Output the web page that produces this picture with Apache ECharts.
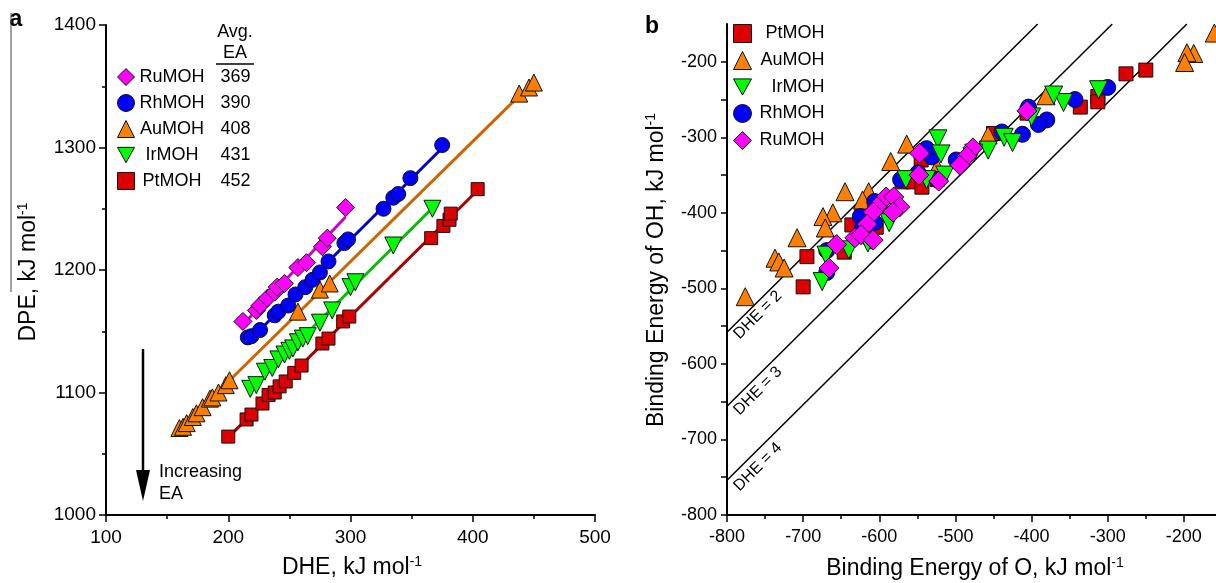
<!DOCTYPE html>
<html>
<head>
<meta charset="utf-8">
<script src="https://cdn.jsdelivr.net/npm/echarts@6/dist/echarts.min.js"></script>
<style>
html,body{margin:0;padding:0;background:#fff;}
#chart{width:1216px;height:583px;}
</style>
</head>
<body>
<div id="chart"></div>
<script>
// ---------- Panel a data: [DHE, DPE] (kJ/mol) ----------
const aRu = [[212,1158],[223,1167],[226,1171],[232,1177],[238,1182],[240,1186],[246,1189],[257,1202],[264,1206],[277,1219],[281,1226],[296,1251]];
const aRh = [[216,1145],[219,1146],[226,1151],[238,1163],[241,1166],[249,1171],[255,1180],[263,1186],[269,1192],[275,1198],[282,1207],[295,1222],[298,1225],[327,1250],[335,1259],[339,1262],[349,1275],[375,1302]];
const aAu = [[160,1071],[163,1072],[166,1075],[171,1080],[174,1083],[179,1088],[185,1095],[187,1096],[192,1100],[198,1106],[201,1110],[257,1166],[275,1184],[283,1189],[438,1344],[446,1349],[450,1353]];
const aIr = [[218,1103],[223,1106],[230,1117],[236,1120],[241,1127],[246,1131],[250,1134],[253,1136],[257,1141],[261,1144],[265,1146],[275,1157],[285,1167],[300,1186],[304,1190],[335,1220],[367,1250]];
const aPt = [[200,1064],[215,1078],[219,1082],[228,1091],[233,1098],[238,1100],[242,1105],[247,1109],[254,1116],[260,1122],[277,1140],[282,1144],[294,1158],[299,1162],[366,1226],[376,1236],[381,1241],[382,1246],[404,1266]];
const aNames = ['RuMOH','RhMOH','AuMOH','IrMOH','PtMOH'];
const avgEA = [369,390,408,431,452];

// ---------- Panel b data: [BE(O), BE(OH)] (kJ/mol) ----------
const bPt = [[-250,-211],[-276,-216],[-313,-246],[-313,-253],[-336,-260],[-406,-268],[-450,-295],[-545,-330],[-570,-359],[-556,-359],[-544,-366],[-524,-356],[-636,-416],[-604,-419],[-623,-400],[-695,-458],[-700,-498],[-646,-452]];
const bAu = [[-160,-162],[-187,-189],[-196,-188],[-199,-201],[-381,-245],[-457,-297],[-564,-309],[-585,-332],[-524,-340],[-645,-372],[-614,-372],[-622,-383],[-661,-400],[-674,-405],[-671,-420],[-708,-433],[-737,-460],[-732,-465],[-725,-473],[-776,-511]];
const bIr = [[-312,-237],[-358,-254],[-371,-244],[-400,-273],[-436,-300],[-425,-307],[-457,-317],[-476,-321],[-523,-302],[-519,-322],[-514,-350],[-538,-356],[-565,-356],[-590,-393],[-587,-413],[-640,-449],[-670,-456],[-675,-491],[-615,-440]];
const bRh = [[-300,-234],[-343,-250],[-380,-277],[-391,-283],[-412,-296],[-439,-293],[-404,-260],[-499,-330],[-531,-326],[-538,-315],[-549,-347],[-572,-356],[-524,-356],[-595,-387],[-606,-385],[-625,-405],[-606,-413],[-622,-419],[-611,-437],[-669,-450],[-669,-479]];
const bRu = [[-406,-265],[-477,-314],[-485,-325],[-494,-337],[-547,-321],[-548,-350],[-522,-358],[-591,-379],[-581,-379],[-573,-392],[-582,-399],[-603,-392],[-608,-399],[-616,-415],[-632,-433],[-624,-429],[-608,-436],[-656,-442],[-666,-473]];
const bNames = ['PtMOH','AuMOH','IrMOH','RhMOH','RuMOH'];
// constant-DHE guide lines (endpoints)
const dhe2Line = [[-800,-558],[-392,-150]];
const dhe3Line = [[-800,-656],[-294,-150]];
const dhe4Line = [[-800,-754],[-196,-150]];
const dheLabels = ['DHE = 2','DHE = 3','DHE = 4'];

// ---------- styles ----------
const FONT = 'Liberation Sans, Arial, sans-serif';
const DOWN_TRI = 'path://M0,0L20,0L10,18Z';
const sty = {
  RuMOH:{color:'#ff00ff', line:'#cc00cc', symbol:'diamond', rot:0, sa:18, sb:20, icon:'diamond', li:19},
  RhMOH:{color:'#0000ff', line:'#0000cc', symbol:'circle', rot:0, sa:15, sb:16, icon:'circle', li:17},
  AuMOH:{color:'#ff8000', line:'#cc6600', symbol:'triangle', rot:0, sa:17, sb:18, icon:'triangle', li:18},
  IrMOH:{color:'#00ff00', line:'#00c000', symbol:'triangle', rot:180, sa:17, sb:18, icon:DOWN_TRI, li:18},
  PtMOH:{color:'#dd0000', line:'#aa0000', symbol:'rect', rot:0, sa:13, sb:14, icon:'rect', li:15}
};

function fit(pts){
  const n = pts.length;
  let sx=0, sy=0, sxx=0, sxy=0, mn=Infinity, mx=-Infinity;
  pts.forEach(p=>{sx+=p[0]; sy+=p[1]; sxx+=p[0]*p[0]; sxy+=p[0]*p[1]; mn=Math.min(mn,p[0]); mx=Math.max(mx,p[0]);});
  const b = (n*sxy - sx*sy)/(n*sxx - sx*sx);
  const a = (sy - b*sx)/n;
  return [[mn, a+b*mn],[mx, a+b*mx]];
}

const aData = {RuMOH:aRu, RhMOH:aRh, AuMOH:aAu, IrMOH:aIr, PtMOH:aPt};
const bData = {PtMOH:bPt, AuMOH:bAu, IrMOH:bIr, RhMOH:bRh, RuMOH:bRu};

const series = [];
aNames.forEach(n=>{
  series.push({type:'line', name:n+' fit', xAxisIndex:0, yAxisIndex:0, data:fit(aData[n]),
    symbol:'none', silent:true, z:2, lineStyle:{color:sty[n].line, width:3}});
});
aNames.slice().reverse().forEach(n=>{
  series.push({type:'scatter', name:n, xAxisIndex:0, yAxisIndex:0, data:aData[n],
    symbol:sty[n].symbol, symbolRotate:sty[n].rot, symbolSize:sty[n].sa, z:3,
    itemStyle:{color:sty[n].color, borderColor:'#111', borderWidth:1, opacity:1}});
});
[dhe2Line, dhe3Line, dhe4Line].forEach((d,i)=>{
  series.push({type:'line', name:'guide'+i, xAxisIndex:1, yAxisIndex:1, data:d, symbol:'none', silent:true, z:2,
    lineStyle:{color:'#000', width:1.5}});
});
['PtMOH','AuMOH','RhMOH','IrMOH','RuMOH'].forEach(n=>{
  series.push({type:'scatter', name:n, xAxisIndex:1, yAxisIndex:1, data:bData[n],
    symbol:sty[n].symbol, symbolRotate:sty[n].rot, symbolSize:sty[n].sb, z:3,
    itemStyle:{color:sty[n].color, borderColor:'#111', borderWidth:1, opacity:1}});
});

const axisCommon = {
  axisLine:{show:true, onZero:false, lineStyle:{color:'#000', width:2}},
  axisTick:{show:true, length:7, lineStyle:{color:'#000', width:1.5}},
  minorTick:{show:true, splitNumber:2, length:4, lineStyle:{color:'#000', width:1.5}},
  splitLine:{show:false}, minorSplitLine:{show:false}
};

function titleText(x, y, main, rotation){
  return {type:'text', x:x, y:y, rotation:rotation||0, silent:true,
    style:{text:'{m|'+main+'}{s|-1}', align:'center', verticalAlign:'middle', fill:'#000',
      rich:{m:{fontSize:23, fontFamily:FONT, fill:'#000', lineHeight:26},
            s:{fontSize:14, fontFamily:FONT, fill:'#000', verticalAlign:'top', lineHeight:14}}}};
}
function legendItems(names){
  return names.map(n=>({name:n, icon:sty[n].icon,
    itemStyle:{color:sty[n].color, borderColor:'#111', borderWidth:1}}));
}
const plain = v => String(v);

const option = {
  animation:false,
  backgroundColor:'#fff',
  textStyle:{fontFamily:FONT},
  grid:[
    {left:106, top:25, width:489, height:490, outerBoundsMode:'none', containLabel:false},
    {left:727, top:24, width:533, height:491, outerBoundsMode:'none', containLabel:false}
  ],
  xAxis:[
    Object.assign({type:'value', gridIndex:0, min:100, max:500, interval:100,
      axisLabel:{color:'#000', fontSize:19, fontFamily:FONT, margin:13, formatter:plain}}, axisCommon),
    Object.assign({type:'value', gridIndex:1, min:-800, max:-100, interval:100,
      axisLabel:{color:'#000', fontSize:18, fontFamily:FONT, margin:13, showMaxLabel:false, formatter:plain}}, axisCommon)
  ],
  yAxis:[
    Object.assign({type:'value', gridIndex:0, min:1000, max:1400, interval:100,
      axisLabel:{color:'#000', fontSize:19, fontFamily:FONT, margin:10, formatter:plain}}, axisCommon),
    Object.assign({}, axisCommon, {type:'value', gridIndex:1, min:-800, max:-150, interval:50,
      axisTick:{show:true, length:6, lineStyle:{color:'#000', width:1.5}},
      minorTick:{show:false},
      axisLabel:{color:'#000', fontSize:18, fontFamily:FONT, margin:10, showMaxLabel:false,
        formatter:v=> (v % 100 === 0 ? String(v) : '')}})
  ],
  legend:[
    {data:legendItems(aNames), orient:'vertical', left:117, top:68, padding:0, itemWidth:17, itemHeight:17, itemGap:8,
      selectedMode:false,
      formatter:name=>'{n|'+name+'}{v|'+avgEA[aNames.indexOf(name)]+'}',
      textStyle:{color:'#000', lineHeight:16, rich:{
        n:{fontSize:18, fontFamily:FONT, width:65, align:'right', lineHeight:16},
        v:{fontSize:18, fontFamily:FONT, width:62, align:'center', lineHeight:16}}}},
    {data:legendItems(bNames), orient:'vertical', left:733, top:24, padding:0, itemWidth:18, itemHeight:18, itemGap:8,
      selectedMode:false,
      formatter:name=>'{n|'+name+'}',
      textStyle:{color:'#000', lineHeight:16, rich:{n:{fontSize:18, fontFamily:FONT, width:68, align:'right', lineHeight:16}}}}
  ],
  graphic:[
    {type:'text', x:16, y:20, silent:true, style:{text:'a', fontSize:23, fontWeight:'bold', fontFamily:FONT, fill:'#000', align:'center', verticalAlign:'middle'}},
    {type:'text', x:652, y:27, silent:true, style:{text:'b', fontSize:23, fontWeight:'bold', fontFamily:FONT, fill:'#000', align:'center', verticalAlign:'middle'}},
    {type:'line', silent:true, shape:{x1:11, y1:13, x2:11, y2:292}, style:{stroke:'#444', lineWidth:1}},
    {type:'text', x:235, y:32, silent:true, style:{text:'Avg.', fontSize:18, fontFamily:FONT, fill:'#000', align:'center', verticalAlign:'middle'}},
    {type:'text', x:235, y:53, silent:true, style:{text:'EA', fontSize:18, fontFamily:FONT, fill:'#000', align:'center', verticalAlign:'middle'}},
    {type:'line', silent:true, shape:{x1:216, y1:64, x2:254, y2:64}, style:{stroke:'#000', lineWidth:1.5}},
    {type:'line', silent:true, shape:{x1:143, y1:349, x2:143, y2:480}, style:{stroke:'#000', lineWidth:2.5}},
    {type:'polygon', silent:true, shape:{points:[[136,470],[150,470],[143,501]]}, style:{fill:'#000'}},
    {type:'text', x:159, y:472, silent:true, style:{text:'Increasing', fontSize:18, fontFamily:FONT, fill:'#000', align:'left', verticalAlign:'middle'}},
    {type:'text', x:159, y:494, silent:true, style:{text:'EA', fontSize:18, fontFamily:FONT, fill:'#000', align:'left', verticalAlign:'middle'}},
    titleText(352, 568, 'DHE, kJ mol'),
    titleText(29, 272, 'DPE, kJ mol', Math.PI/2),
    titleText(975, 569, 'Binding Energy of O, kJ mol'),
    titleText(657, 270, 'Binding Energy of OH, kJ mol', Math.PI/2),
    {type:'text', x:758, y:315, rotation:Math.PI/4, silent:true, style:{text:dheLabels[0], fontSize:16, fontFamily:FONT, fill:'#000', align:'center', verticalAlign:'middle'}},
    {type:'text', x:758, y:391, rotation:Math.PI/4, silent:true, style:{text:dheLabels[1], fontSize:16, fontFamily:FONT, fill:'#000', align:'center', verticalAlign:'middle'}},
    {type:'text', x:758, y:467, rotation:Math.PI/4, silent:true, style:{text:dheLabels[2], fontSize:16, fontFamily:FONT, fill:'#000', align:'center', verticalAlign:'middle'}}
  ],
  series:series
};

const chart = echarts.init(document.getElementById('chart'), null, {renderer:'canvas'});
chart.setOption(option);
</script>
</body>
</html>
